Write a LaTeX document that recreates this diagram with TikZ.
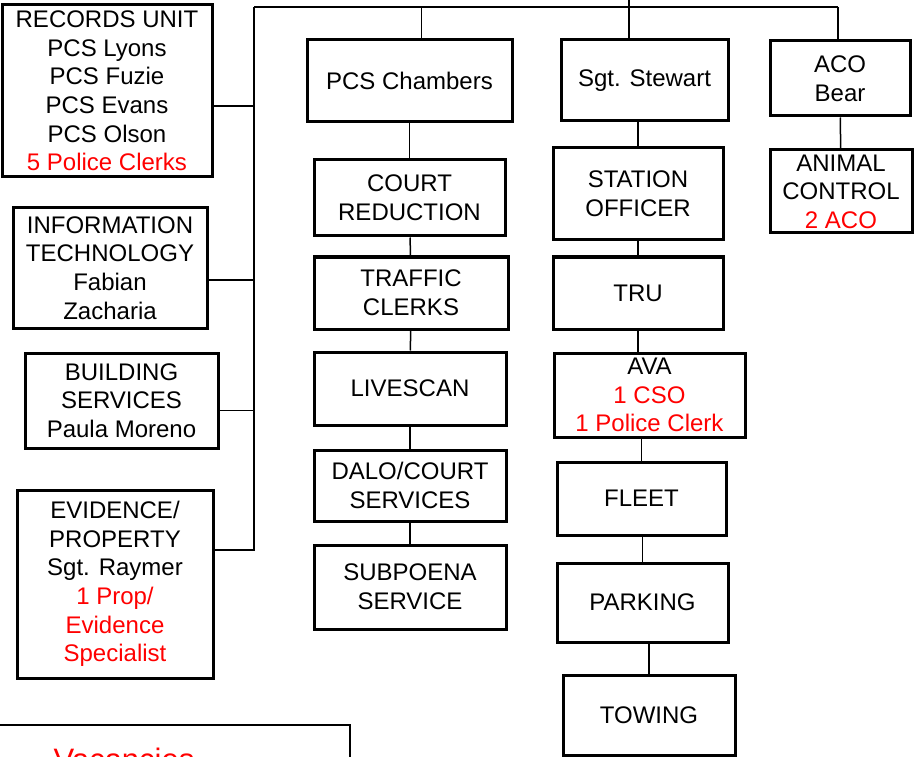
\documentclass[tikz,border=0pt]{standalone}
\usepackage{fontspec}
\setmainfont{Liberation Sans}
\usepackage{xcolor}
\usepackage{tikz}
\usetikzlibrary{positioning,calc}
\definecolor{vacRed}{HTML}{FF0000}
\definecolor{lineBlack}{HTML}{000000}

\begin{document}
\begin{tikzpicture}[
  x=1pt, y=-1pt,
  unit/.style={rectangle, draw=lineBlack, line width=3pt, fill=white, inner sep=0pt, align=center, font=\fontsize{24}{28.6}\selectfont},
  link/.style={draw=lineBlack, line width=1.5pt}
]
\useasboundingbox (0,0) rectangle (914,757);
% left column
\node[unit, minimum width=210pt, minimum height=172pt] (records) at (107,91) {RECORDS UNIT\\PCS Lyons\\PCS Fuzie\\PCS Evans\\PCS Olson\\\textcolor{vacRed}{5 Police Clerks}};
\node[unit, minimum width=194pt, minimum height=120pt] (infotech) at (110,268) {INFORMATION\\TECHNOLOGY\\Fabian\\Zacharia};
\node[unit, minimum width=193pt, minimum height=95pt] (building) at (121.5,400.5) {BUILDING\\SERVICES\\Paula Moreno};
\node[unit, minimum width=196pt, minimum height=188pt] (evidence) at (115,584) {EVIDENCE/\\PROPERTY\\Sgt. Raymer\\\textcolor{vacRed}{1 Prop/}\\\textcolor{vacRed}{Evidence}\\\textcolor{vacRed}{Specialist}};
% chambers column
\node[unit, minimum width=205pt, minimum height=82pt] (chambers) at (409.5,81) {PCS Chambers};
\node[unit, minimum width=191pt, minimum height=76pt] (court) at (409.5,198) {COURT\\REDUCTION};
\node[unit, minimum width=194pt, minimum height=72pt] (traffic) at (411,293) {TRAFFIC\\CLERKS};
\node[unit, minimum width=192pt, minimum height=73pt] (livescan) at (410,388.5) {LIVESCAN};
\node[unit, minimum width=192pt, minimum height=71pt] (dalo) at (410,485.5) {DALO/COURT\\SERVICES};
\node[unit, minimum width=192pt, minimum height=84pt] (subpoena) at (410,587) {SUBPOENA\\SERVICE};
% stewart column
\node[unit, minimum width=167pt, minimum height=81pt] (stewart) at (644.5,80.5) {Sgt. Stewart};
\node[unit, minimum width=170pt, minimum height=92pt] (station) at (638,194) {STATION\\OFFICER};
\node[unit, minimum width=170pt, minimum height=72pt] (tru) at (638,293) {TRU};
\node[unit, minimum width=191pt, minimum height=84pt] (ava) at (649.5,395) {AVA\\\textcolor{vacRed}{1 CSO}\\\textcolor{vacRed}{1 Police Clerk}};
\node[unit, minimum width=169pt, minimum height=73pt] (fleet) at (641.5,498.5) {FLEET};
\node[unit, minimum width=171pt, minimum height=79pt] (parking) at (642.5,602.5) {PARKING};
\node[unit, minimum width=172pt, minimum height=80pt] (towing) at (649,715) {TOWING};
% animal control
\node[unit, minimum width=140pt, minimum height=75pt] (aco) at (840,78.5) {ACO\\Bear};
\node[unit, minimum width=142pt, minimum height=83pt] (animal) at (841,191.5) {ANIMAL\\CONTROL\\\textcolor{vacRed}{2 ACO}};
% vacancies
\node[rectangle, draw=lineBlack, line width=1.8pt, minimum width=352pt, minimum height=110pt, inner sep=0pt] (vacbox) at (174,780) {};
\node[text=vacRed, font=\fontsize{31}{36}\selectfont, anchor=base] (vactitle) at (124,770) {Vacancies};
% trunk
\coordinate (busL) at (254,7);
\coordinate (busR) at (838,7);
\coordinate (root) at (629,-10);
\draw[link] (busL) -- (busR);
\draw[link] (root) -- (root |- stewart.north);
\draw[link] ([xshift=12pt]chambers.north |- busL) -- ([xshift=12pt]chambers.north);
\draw[link] (busR) -- (busR |- aco.north);
\draw[link] (aco) -- (animal);
% left bus
\draw[link] (busL) |- ([yshift=34pt]evidence.east);
\draw[link] ([yshift=-15pt]records.east) -- ([yshift=-15pt]records.east -| busL);
\draw[link] ([yshift=-12pt]infotech.east) -- ([yshift=-12pt]infotech.east -| busL);
\draw[link] ([yshift=-10pt]building.east) -- ([yshift=-10pt]building.east -| busL);
% chambers chain
\draw[link] (court.north |- chambers.south) -- (court.north);
\draw[link] (court) -- (traffic);
\draw[link] (traffic) -- (livescan);
\draw[link] (livescan) -- (dalo);
\draw[link] (dalo) -- (subpoena);
% stewart chain
\draw[link] (station.north |- stewart.south) -- (station.north);
\draw[link] (station) -- (tru);
\draw[link] (tru.south) -- (tru.south |- ava.north);
\draw[link] (fleet.north |- ava.south) -- (fleet.north);
\draw[link] (parking.north |- fleet.south) -- (parking.north);
\draw[link] (towing.north |- parking.south) -- (towing.north);
\end{tikzpicture}
\end{document}
